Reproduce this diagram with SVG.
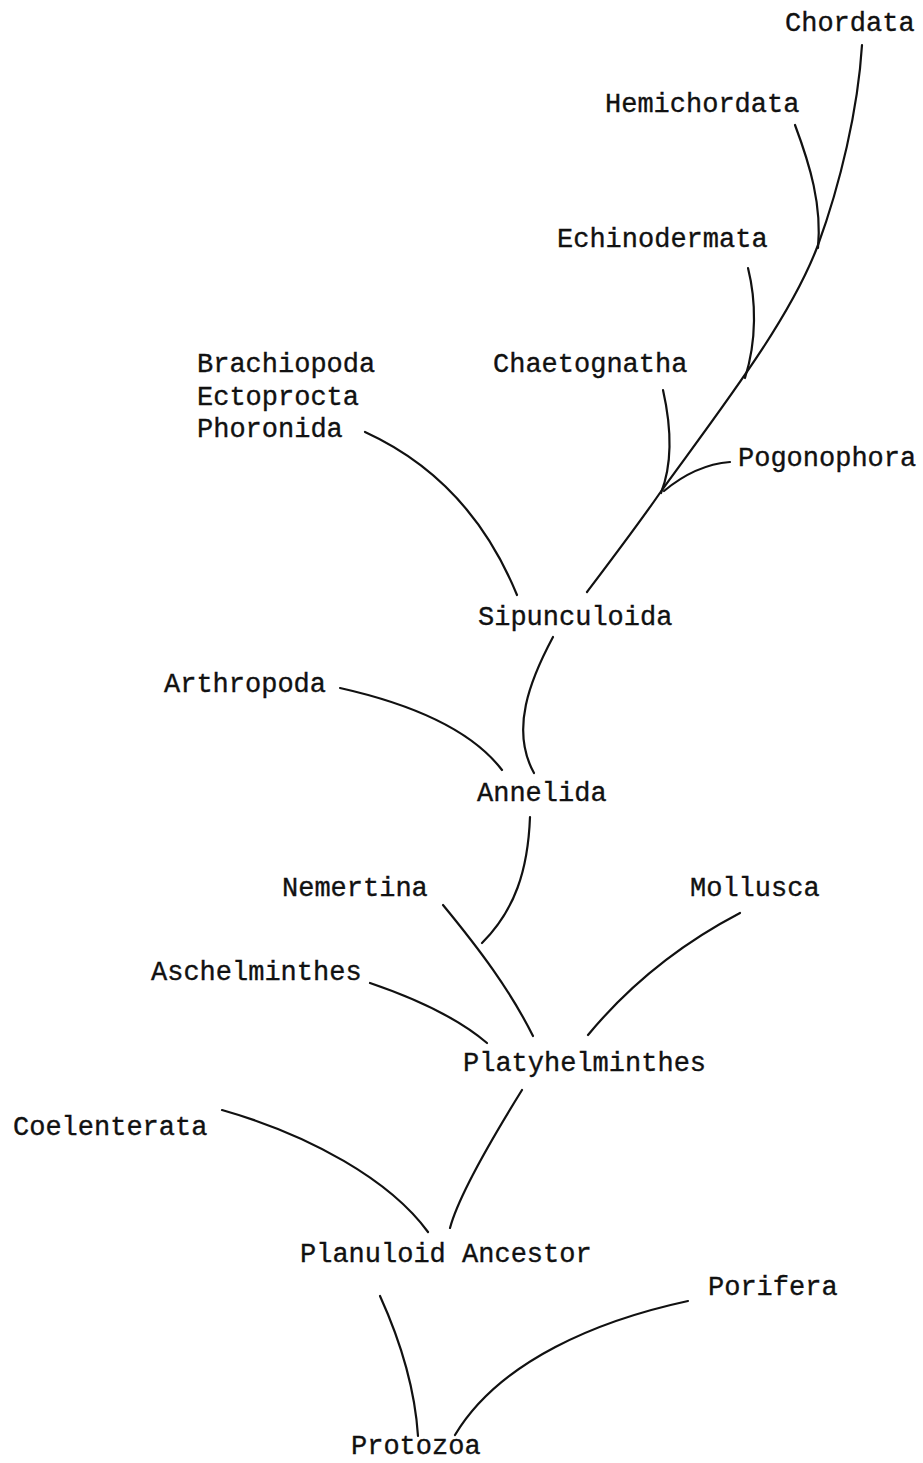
<svg xmlns="http://www.w3.org/2000/svg" width="923" height="1463" viewBox="0 0 923 1463">
<style>
text{font-family:"Liberation Mono","Courier New",monospace;font-size:27px;fill:#111;stroke:#111;stroke-width:0.35}
.c{fill:none;stroke:#111;stroke-width:2.2;stroke-linecap:round}
</style>
<rect width="923" height="1463" fill="#fff"/>
<g id="connectors">
<path class="c" d="M587,592 C615,555 640,522 662,490 C720,410 790,320 818,245 C840,185 858,110 862,45"/>
<path class="c" d="M795,125 C810,165 822,205 818,248"/>
<path class="c" d="M748,268 C756,300 757,340 745,378"/>
<path class="c" d="M663,390 C672,430 672,465 661,493"/>
<path class="c" d="M730,462 C705,464 682,476 664,491"/>
<path class="c" d="M365,432 Q470,480 517,595"/>
<path class="c" d="M553,637 C530,680 510,730 534,773"/>
<path class="c" d="M340,688 Q460,715 502,770"/>
<path class="c" d="M530,817 C528,870 515,910 482,943"/>
<path class="c" d="M443,905 C480,950 510,990 533,1036"/>
<path class="c" d="M740,913 Q650,960 588,1035"/>
<path class="c" d="M370,983 C420,1000 460,1020 487,1043"/>
<path class="c" d="M522,1090 Q460,1190 450,1228"/>
<path class="c" d="M222,1110 C310,1135 390,1180 428,1232"/>
<path class="c" d="M380,1296 C400,1340 415,1390 418,1436"/>
<path class="c" d="M688,1301 C600,1320 500,1360 455,1435"/>
</g>
<g id="chordata"><text x="785" y="31">Chordata</text></g>
<g id="hemichordata"><text x="605" y="112">Hemichordata</text></g>
<g id="echinodermata"><text x="557" y="247">Echinodermata</text></g>
<g id="lophophorates"><text x="197" y="372">Brachiopoda</text><text x="197" y="405">Ectoprocta</text><text x="197" y="437">Phoronida</text></g>
<g id="chaetognatha"><text x="493" y="372">Chaetognatha</text></g>
<g id="pogonophora"><text x="738" y="466">Pogonophora</text></g>
<g id="sipunculoida"><text x="478" y="625">Sipunculoida</text></g>
<g id="arthropoda"><text x="164" y="692">Arthropoda</text></g>
<g id="annelida"><text x="477" y="801">Annelida</text></g>
<g id="nemertina"><text x="282" y="896">Nemertina</text></g>
<g id="mollusca"><text x="690" y="896">Mollusca</text></g>
<g id="aschelminthes"><text x="151" y="980">Aschelminthes</text></g>
<g id="platyhelminthes"><text x="463" y="1071">Platyhelminthes</text></g>
<g id="coelenterata"><text x="13" y="1135">Coelenterata</text></g>
<g id="planuloid"><text x="300" y="1262">Planuloid Ancestor</text></g>
<g id="porifera"><text x="708" y="1295">Porifera</text></g>
<g id="protozoa"><text x="351" y="1454">Protozoa</text></g>
</svg>
